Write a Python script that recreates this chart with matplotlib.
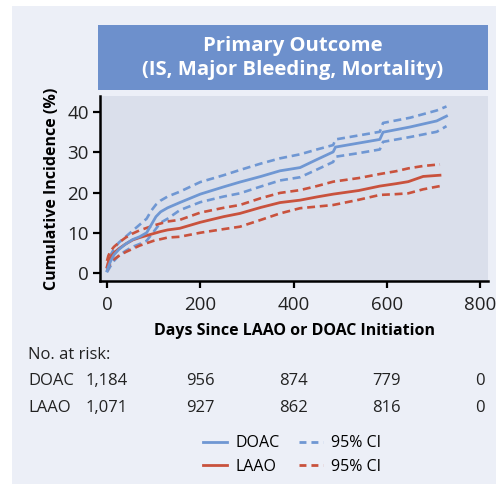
import matplotlib.pyplot as plt
from matplotlib.patches import Rectangle
from matplotlib.lines import Line2D
import matplotlib.transforms as mtransforms

plt.rcParams['font.family'] = ['Open Sans', 'DejaVu Sans']

# Cumulative incidence (%)
doac_days = [0, 3, 8, 15, 25, 40, 55, 70, 85, 95, 105, 115, 130, 156, 200, 250, 285,
             330, 371, 414, 450, 485, 490, 540, 585, 592, 650, 707, 728]
doac_est = [0.5, 1.5, 3.0, 4.5, 5.8, 7.2, 8.3, 9.0, 10.0, 12.0, 14.0, 15.2, 16.2, 17.5,
            19.6, 21.4, 22.6, 24.0, 25.4, 26.2, 28.2, 30.1, 31.3, 32.3, 33.2, 35.0, 36.3,
            37.8, 39.0]
doac_hi = [1.0, 2.5, 4.5, 6.0, 7.5, 9.0, 10.5, 12.0, 13.5, 15.5, 17.0, 18.0, 19.0, 20.2,
           22.6, 24.3, 25.6, 27.2, 28.5, 29.5, 30.7, 31.8, 33.2, 34.2, 35.1, 37.3, 38.6,
           40.4, 41.4]
doac_lo = [0.2, 0.8, 1.8, 3.0, 4.3, 5.5, 6.5, 7.2, 8.0, 9.5, 11.0, 12.5, 13.5, 15.6,
           17.6, 19.0, 19.8, 21.5, 23.0, 23.8, 25.7, 27.6, 28.9, 29.8, 30.7, 32.6, 33.8,
           35.1, 36.5]

laao_days = [0, 3, 8, 15, 25, 40, 55, 70, 85, 100, 115, 130, 156, 200, 250, 285, 330,
             371, 414, 450, 485, 540, 585, 620, 646, 678, 714]
laao_est = [1.5, 2.8, 4.0, 5.0, 6.0, 7.2, 8.2, 8.8, 9.3, 9.8, 10.3, 10.7, 11.1, 12.6,
            14.0, 14.8, 16.3, 17.5, 18.1, 18.9, 19.6, 20.5, 21.6, 22.2, 22.7, 24.0, 24.3]
laao_hi = [3.0, 4.3, 5.5, 6.5, 7.5, 8.8, 9.8, 10.6, 11.2, 11.8, 12.3, 12.8, 13.2, 15.0,
           16.2, 16.9, 18.6, 19.9, 20.6, 21.6, 22.7, 23.6, 24.6, 25.3, 26.0, 26.6, 27.0]
laao_lo = [0.5, 1.5, 2.5, 3.4, 4.2, 5.2, 6.0, 6.8, 7.4, 8.0, 8.4, 8.8, 9.0, 10.0,
           10.9, 11.5, 13.2, 14.8, 16.1, 16.5, 16.9, 18.2, 19.4, 19.6, 19.8, 20.8, 21.6]

risk_days = [0, 200, 400, 600, 800]
risk_doac = ['1,184', '956', '874', '779', '0']
risk_laao = ['1,071', '927', '862', '816', '0']

BLUE = '#6f97d3'
RED = '#c9523d'
W, H = 496, 490

fig = plt.figure(figsize=(W / 100, H / 100), dpi=100)
fig.patch.set_facecolor('white')

# light panel behind everything
fig.patches.append(Rectangle((12 / W, 1 - 484 / H), 1, 478 / H, transform=fig.transFigure,
                             facecolor='#eceff7', edgecolor='none', zorder=-10))
# title band
fig.patches.append(Rectangle((98 / W, 1 - 90 / H), 390 / W, 65 / H, transform=fig.transFigure,
                             facecolor='#6d90cc', edgecolor='none', zorder=-5))
fig.text(293 / W, 1 - 58 / H, 'Primary Outcome\n(IS, Major Bleeding, Mortality)',
         ha='center', va='center', color='white', fontsize=14.6, fontweight='bold',
         linespacing=1.22)

ax = fig.add_axes([100 / W, 1 - 281 / H, 388 / W, 185 / H])
ax.set_facecolor('#dadfeb')

dash = (0, (3, 1.8))
ax.plot(doac_days, doac_hi, color=BLUE, lw=1.9, ls=dash)
ax.plot(doac_days, doac_lo, color=BLUE, lw=1.9, ls=dash)
ax.plot(laao_days, laao_hi, color=RED, lw=1.9, ls=dash)
ax.plot(laao_days, laao_lo, color=RED, lw=1.9, ls=dash)
ax.plot(laao_days, laao_est, color=RED, lw=2.0)
ax.plot(doac_days, doac_est, color=BLUE, lw=2.0)

ax.set_xlim(-15, 817)
ax.set_ylim(-2, 44)
ax.set_xticks(risk_days)
ax.set_yticks([0, 10, 20, 30, 40])
for s in ['top', 'right']:
    ax.spines[s].set_visible(False)
for s in ['left', 'bottom']:
    ax.spines[s].set_linewidth(1.8)
ax.tick_params(direction='out', length=5, width=1.6, labelsize=13.5, colors='black',
               labelcolor='#222222', pad=3)
ax.tick_params(axis='x', pad=6)

ax.set_ylabel('Cumulative Incidence (%)', fontsize=11.5, fontweight='bold', labelpad=5)
ax.set_xlabel('Days Since LAAO or DOAC Initiation', fontsize=11.5, fontweight='bold',
              labelpad=6)

# number at risk table
fig.text(28 / W, 1 - 355 / H, 'No. at risk:', fontsize=12, va='center', color='#222222')
trans = mtransforms.blended_transform_factory(ax.transData, fig.transFigure)
for label, vals, yp in [('DOAC', risk_doac, 381), ('LAAO', risk_laao, 408)]:
    fig.text(28 / W, 1 - yp / H, label, fontsize=12, va='center', color='#222222')
    for d, v in zip(risk_days, vals):
        ax.text(d, 1 - yp / H, v, transform=trans, ha='center', va='center',
                fontsize=12, color='#222222', clip_on=False)

handles = [Line2D([], [], color=BLUE, lw=2.0),
           Line2D([], [], color=RED, lw=2.0),
           Line2D([], [], color=BLUE, lw=2.0, ls=(0, (2.5, 1.8))),
           Line2D([], [], color=RED, lw=2.0, ls=(0, (2.5, 1.8)))]
fig.legend(handles, ['DOAC', 'LAAO', '95% CI', '95% CI'], ncol=2, frameon=False,
           loc='center', bbox_to_anchor=(292 / W, 1 - 455 / H), fontsize=11.5,
           handlelength=1.5, handletextpad=0.5, columnspacing=1.2, labelspacing=0.45)

plt.savefig('out.png', dpi=100)
